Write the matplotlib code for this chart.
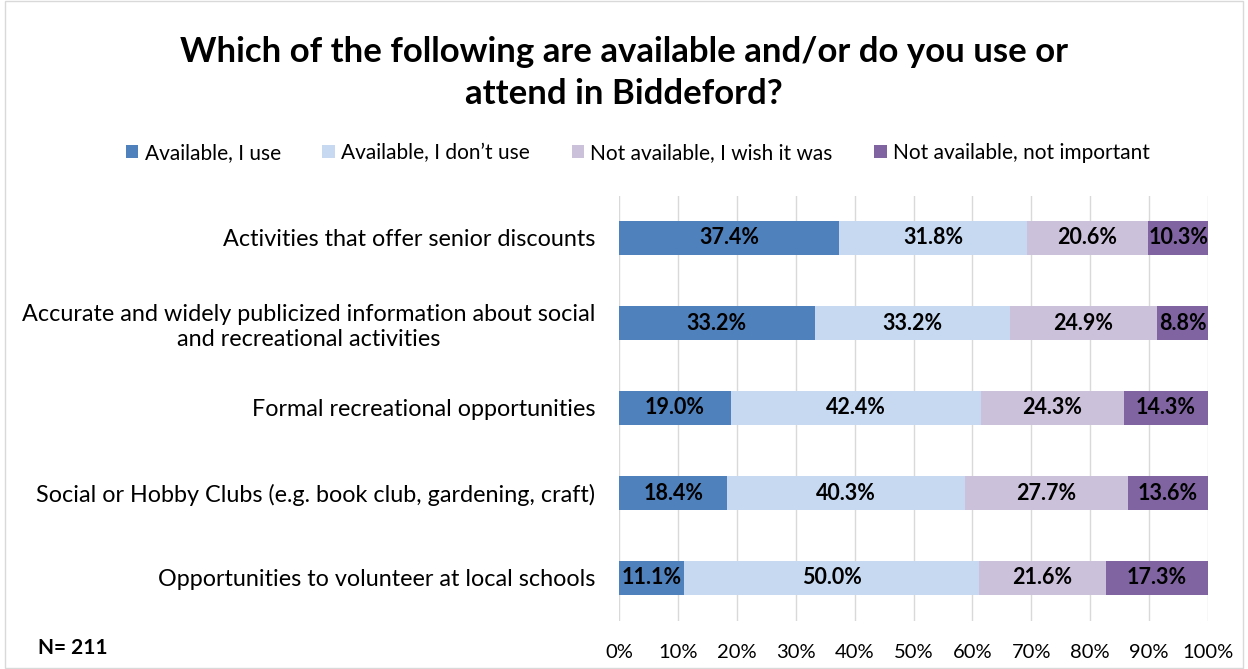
import matplotlib
matplotlib.use("Agg")
import matplotlib.pyplot as plt
from matplotlib.patches import Rectangle, Patch

categories = [
    "Activities that offer senior discounts",
    "Accurate and widely publicized information about social\nand recreational activities",
    "Formal recreational opportunities",
    "Social or Hobby Clubs (e.g. book club, gardening, craft)",
    "Opportunities to volunteer at local schools",
]
series_names = ["Available, I use", "Available, I don\u2019t use",
                "Not available, I wish it was", "Not available, not important"]
available_use = [37.4, 33.2, 19.0, 18.4, 11.1]
available_dont_use = [31.8, 33.2, 42.4, 40.3, 50.0]
not_available_wish = [20.6, 24.9, 24.3, 27.7, 21.6]
not_available_not_important = [10.3, 8.8, 14.3, 13.6, 17.3]
series_values = [available_use, available_dont_use, not_available_wish, not_available_not_important]
colors = ["#4F81BD", "#C6D9F1", "#CCC1DA", "#8064A2"]
xticks = [0, 10, 20, 30, 40, 50, 60, 70, 80, 90, 100]
xtick_labels = [f"{t}%" for t in xticks]

plt.rcParams['font.family'] = ['Lato', 'DejaVu Sans']

fig = plt.figure(figsize=(12.48, 6.69), dpi=100)
fig.patches.append(Rectangle((0.004, 0.002), 0.992, 0.996, transform=fig.transFigure,
                             fill=False, edgecolor="#D9D9D9", linewidth=1))
ax = fig.add_axes([619/1248, 48.5/669, (1208-619)/1248, (620.5-195.5)/669])

n = len(categories)
ypos = list(range(n))
left = [0.0]*n
for vals, col, name in zip(series_values, colors, series_names):
    ax.barh(ypos, vals, left=left, height=0.41, color=col, label=name, zorder=3)
    for i, (l, v) in enumerate(zip(left, vals)):
        ax.text(l + v/2, i, f"{v:.1f}%", ha="center", va="center",
                fontsize=15.5, fontweight="bold", color="black", zorder=4)
    left = [a + b for a, b in zip(left, vals)]

ax.set_xlim(0, 100)
ax.set_ylim(n - 0.5, -0.5)
ax.set_xticks(xticks)
ax.set_xticklabels(xtick_labels, fontsize=14.5)
ax.set_yticks(ypos)
ax.set_yticklabels(categories, fontsize=16.8, linespacing=1.25)
ax.tick_params(axis="both", length=0)
ax.tick_params(axis="y", pad=17)
ax.tick_params(axis="x", pad=17)
for lbl in ax.get_yticklabels():
    lbl.set_horizontalalignment("right")
    lbl.set_multialignment("center")
ax.grid(axis="x", color="#D9D9D9", linewidth=1, zorder=0)
for s in ax.spines.values():
    s.set_visible(False)

fig.text(0.5, 1 - 73/669, "Which of the following are available and/or do you use or\nattend in Biddeford?",
         ha="center", va="center", fontsize=25, fontweight="bold", linespacing=1.35)

handles = [Patch(facecolor=c, label=nm) for c, nm in zip(colors, series_names)]
fig.legend(handles=handles, loc="center", bbox_to_anchor=(638/1248, 1 - 153/669),
           ncol=4, frameon=False, fontsize=15, handlelength=0.6, handleheight=0.6,
           handletextpad=0.3, columnspacing=2.0)

fig.text(38/1248, 1 - 648/669, "N= 211", ha="left", va="center", fontsize=15, fontweight="bold")

fig.savefig("out.png", dpi=100)
